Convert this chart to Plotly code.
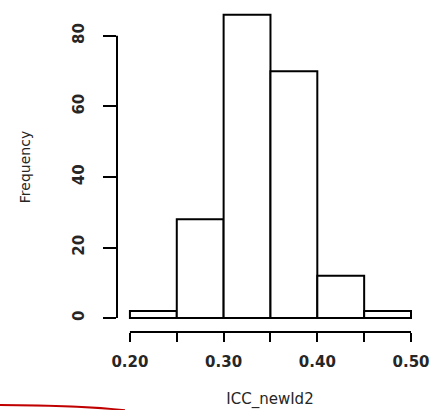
import plotly.graph_objects as go

bin_starts = [0.20, 0.25, 0.30, 0.35, 0.40, 0.45]
counts = [2, 28, 86, 70, 12, 2]
bin_width = 0.05
x_ticks = [0.20, 0.25, 0.30, 0.35, 0.40, 0.45, 0.50]
x_tick_text = ["0.20", "", "0.30", "", "0.40", "", "0.50"]
y_ticks = [0, 20, 40, 60, 80]

centers = [s + bin_width / 2 for s in bin_starts]
FONT = "DejaVu Sans, Liberation Sans, Arial, sans-serif"
TXT = "#262626"

fig = go.Figure(go.Bar(
    x=centers, y=counts, width=[bin_width] * len(counts),
    marker=dict(color="white", line=dict(color="black", width=2)),
    hoverinfo="skip",
))

fig.update_layout(
    width=432, height=410,
    margin=dict(l=117, r=9, t=2, b=78),
    plot_bgcolor="white", paper_bgcolor="white",
    showlegend=False,
    xaxis=dict(
        range=[0.1862, 0.5128], showgrid=False, zeroline=False, showline=False,
        tickmode="array", tickvals=x_ticks, ticktext=x_tick_text,
        ticks="outside", ticklen=9, tickwidth=2, tickcolor="black",
        tickfont=dict(family=FONT, size=15, color=TXT, weight="bold"),
        ticklabelstandoff=7,
        title=dict(text="ICC_newId2", font=dict(family=FONT, size=15, color=TXT), standoff=23),
    ),
    yaxis=dict(
        range=[-3.94, 89.6], showgrid=False, zeroline=False, showline=False,
        tickmode="array", tickvals=y_ticks, ticktext=[str(v) for v in y_ticks],
        ticks="outside", ticklen=13, tickwidth=2, tickcolor="black",
        tickangle=-90,
        tickfont=dict(family=FONT, size=15, color=TXT, weight="bold"),
        ticklabelstandoff=13,
        title=dict(text="Frequency", font=dict(family=FONT, size=14, color=TXT), standoff=36),
    ),
    shapes=[
        dict(type="line", xref="x", yref="paper", x0=x_ticks[0], x1=x_ticks[-1], y0=0, y1=0,
             line=dict(color="black", width=2)),
        dict(type="line", xref="paper", yref="y", x0=0, x1=0, y0=y_ticks[0], y1=y_ticks[-1],
             line=dict(color="black", width=2)),
        dict(type="path", xref="paper", yref="paper",
             path="M -0.39 -0.221 Q -0.12 -0.222 0.026 -0.237",
             line=dict(color="#c00000", width=2)),
    ],
)

fig.write_html("out.html")
